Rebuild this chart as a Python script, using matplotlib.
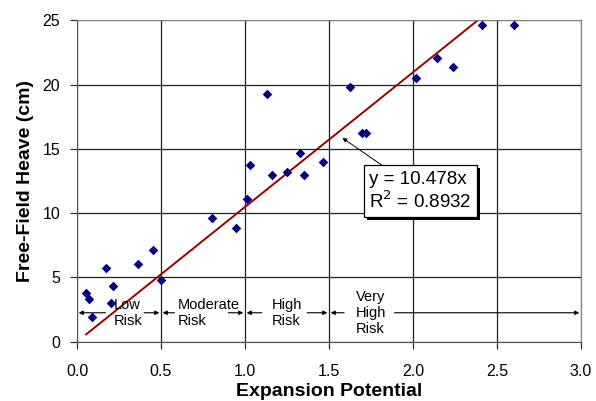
import matplotlib
matplotlib.use("Agg")
import matplotlib.pyplot as plt
import matplotlib.patheffects as pe
import numpy as np

plt.rcParams["font.family"] = ["Liberation Sans", "DejaVu Sans"]

# measured data points (expansion potential, free-field heave in cm)
expansion = [0.054, 0.07, 0.087, 0.173, 0.20, 0.214, 0.365, 0.454, 0.50,
             0.805, 0.944, 1.01, 1.03, 1.131, 1.163, 1.248, 1.325, 1.353,
             1.466, 1.623, 1.694, 1.72, 2.018, 2.145, 2.238, 2.409, 2.601]
heave = [3.78, 3.29, 1.89, 5.75, 3.03, 4.35, 6.03, 7.12, 4.81,
         9.65, 8.87, 11.08, 13.72, 19.3, 12.97, 13.22, 14.70, 12.97,
         14.0, 19.8, 16.25, 16.25, 20.55, 22.08, 21.33, 24.61, 24.61]

slope = 10.478
r2 = 0.8932

# risk bands: lower edge, upper edge, label, label x, arrow gap start/end
risk_bands = [
    (0.0, 0.5, "Low\nRisk", 0.22, 0.17, 0.40),
    (0.5, 1.0, "Moderate\nRisk", 0.60, 0.58, 0.90),
    (1.0, 1.5, "High\nRisk", 1.16, 1.10, 1.37),
    (1.5, 3.0, "Very\nHigh\nRisk", 1.66, 1.59, 1.89),
]
arrow_y = 2.25

fig = plt.figure(figsize=(5.96, 4.01), dpi=100)
ax = fig.add_axes([0.1292, 0.1479, 0.8456, 0.8015])

ax.set_xlim(0, 3.0)
ax.set_ylim(0, 25)
ax.set_xticks(np.arange(0, 3.01, 0.5))
ax.set_yticks(np.arange(0, 26, 5))
ax.set_xticklabels([f"{v:.1f}" for v in np.arange(0, 3.01, 0.5)])
ax.grid(True, color="#222222", lw=0.9)
ax.set_axisbelow(True)
for side in ("top", "right"):
    ax.spines[side].set_color("#808080")
for side in ("left", "bottom"):
    ax.spines[side].set_color("#555555")
ax.tick_params(direction="out", length=5, width=0.9, labelsize=11.5,
               color="#333333")
ax.tick_params(axis="y", pad=7)
ax.tick_params(axis="x", pad=11)

ax.scatter(expansion, heave, marker="D", s=24, color="#000080", zorder=3,
           linewidths=0)

xfit = np.array([min(expansion), max(expansion)])
ax.plot(xfit, slope * xfit, color="#990000", lw=1.4, zorder=2)

for lo, hi, label, tx, left_end, right_start in risk_bands:
    ax.text(tx, arrow_y, label, fontsize=10.5, ha="left", va="center",
            linespacing=1.2, zorder=4)
    ax.annotate("", xy=(lo + 0.01, arrow_y), xytext=(left_end, arrow_y),
                arrowprops=dict(arrowstyle="-|>", color="black", lw=0.8,
                                mutation_scale=6, shrinkA=0, shrinkB=0))
    ax.annotate("", xy=(hi - 0.01, arrow_y), xytext=(right_start, arrow_y),
                arrowprops=dict(arrowstyle="-|>", color="black", lw=0.8,
                                mutation_scale=6, shrinkA=0, shrinkB=0))

eq = ax.annotate(f"y = {slope}x\nR$^2$ = {r2}", xy=(1.58, 15.85),
                 xytext=(1.74, 11.7), fontsize=13.5, ha="left", va="center",
                 linespacing=1.15, zorder=5,
                 bbox=dict(boxstyle="square,pad=0.28", fc="white", ec="black",
                           lw=0.9),
                 arrowprops=dict(arrowstyle="-|>", color="black", lw=0.7,
                                 mutation_scale=6, shrinkA=0, shrinkB=0,
                                 relpos=(0.2, 1.0)))
eq.get_bbox_patch().set_path_effects(
    [pe.SimplePatchShadow(offset=(2, -2), shadow_rgbFace="black", alpha=1.0),
     pe.Normal()])

ax.set_xlabel("Expansion Potential", fontsize=14, fontweight="bold", labelpad=3)
ax.set_ylabel("Free-Field Heave (cm)", fontsize=14, fontweight="bold", labelpad=6)

fig.savefig("out.png", dpi=100)
